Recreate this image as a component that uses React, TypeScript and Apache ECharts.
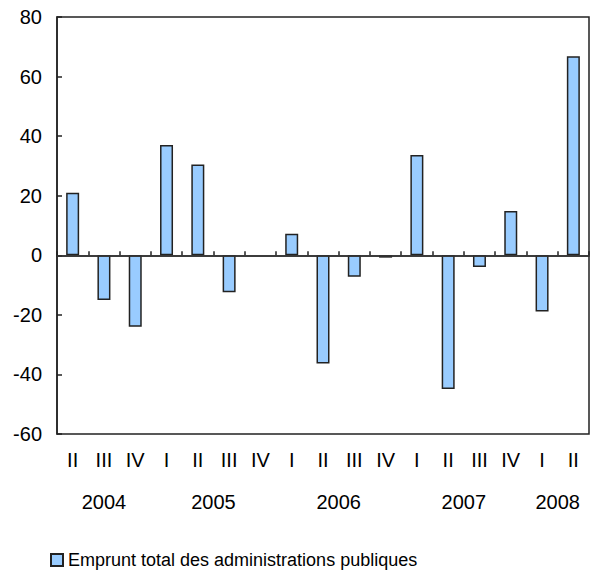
import React, { useEffect, useRef } from "react";
import * as echarts from "echarts";

const quarters = ["II", "III", "IV", "I", "II", "III", "IV", "I", "II", "III", "IV", "I", "II", "III", "IV", "I", "II"];
const values = [21, -15, -24, 37, 30.5, -12.4, null, 7.2, -36.3, -7.2, -0.8, 33.7, -44.9, -3.9, 14.9, -18.9, 66.8];
const years = ["2004", "2005", "2006", "2007", "2008"];
const quartersPerYear = [3, 4, 4, 4, 2];
const seriesName = "Emprunt total des administrations publiques";
const yTicks = { min: -60, max: 80, interval: 20 };

const FONT = "'Liberation Sans', Arial, sans-serif";

export default function App() {
  const ref = useRef<HTMLDivElement>(null);
  useEffect(() => {
    if (!ref.current) return;
    const chart = echarts.init(ref.current, null, { renderer: "svg" });
    const n = quarters.length;
    const yearSlots: string[] = new Array(2 * n + 1).fill("");
    let start = 0;
    years.forEach((y, i) => {
      const mid = start + quartersPerYear[i] / 2;
      yearSlots[Math.round(mid * 2)] = y;
      start += quartersPerYear[i];
    });
    chart.setOption({
      animation: false,
      grid: {
        left: 57,
        right: -3,
        top: 17,
        bottom: 147,
        show: true,
        borderColor: "#222",
        borderWidth: 1.5,
        backgroundColor: "transparent",
      },
      legend: {
        show: true,
        left: 45,
        top: 546,
        itemWidth: 12,
        itemHeight: 12,
        itemGap: 5,
        icon: "rect",
        textStyle: { fontFamily: FONT, fontSize: 18, color: "#000", padding: [0, 0, 0, 0] },
        data: [seriesName],
      },
      xAxis: [
        {
          type: "category",
          data: quarters,
          position: "bottom",
          axisLine: { show: true, lineStyle: { color: "#222", width: 1.5 } },
          axisTick: { show: true, inside: true, length: 4, lineStyle: { color: "#222", width: 1.5 } },
          axisLabel: { interval: 0, margin: 16, fontFamily: FONT, fontSize: 20, color: "#000" },
          splitLine: { show: false },
        },
        {
          type: "category",
          data: yearSlots,
          boundaryGap: false,
          position: "bottom",
          axisLine: { show: false },
          axisTick: { show: false },
          axisLabel: { interval: 0, margin: 58, fontFamily: FONT, fontSize: 20, color: "#000" },
          splitLine: { show: false },
        },
      ],
      yAxis: {
        type: "value",
        min: yTicks.min,
        max: yTicks.max,
        interval: yTicks.interval,
        axisLine: { show: true, lineStyle: { color: "#222", width: 1.5 } },
        axisTick: { show: true, inside: true, length: 5, lineStyle: { color: "#222", width: 1.5 } },
        axisLabel: { margin: 15, fontFamily: FONT, fontSize: 20, color: "#000" },
        splitLine: { show: false },
      },
      series: [
        {
          name: seriesName,
          type: "bar",
          xAxisIndex: 0,
          data: values,
          barWidth: 13,
          itemStyle: { color: "#99ccff", borderColor: "#222", borderWidth: 1.5 },
          markLine: {
            silent: true,
            symbol: "none",
            label: { show: false },
            lineStyle: { color: "#333", width: 1.5, type: "solid" },
            data: [{ yAxis: 0 }],
          },
        },
      ],
    });
    return () => chart.dispose();
  }, []);
  return <div ref={ref} style={{ width: 592, height: 581, position: "absolute", left: 0, top: 0 }} />;
}
